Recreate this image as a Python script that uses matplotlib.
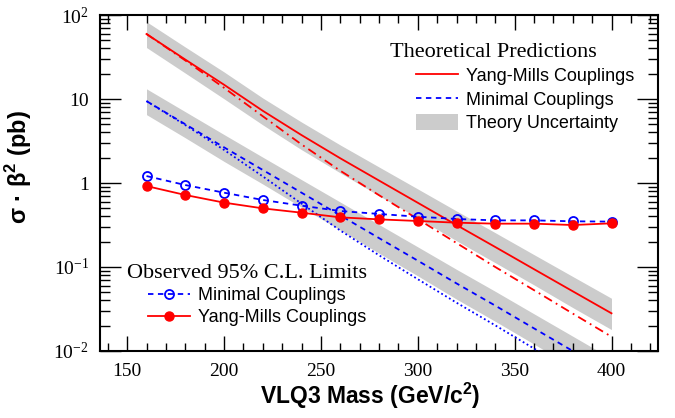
import numpy as np
import matplotlib
matplotlib.use('Agg')
import matplotlib.pyplot as plt
import matplotlib.ticker as ticker
from matplotlib.lines import Line2D
from matplotlib.patches import Patch

# VLQ3 mass points (GeV/c^2)
mass = [160, 180, 200, 220, 240, 260, 280, 300, 320, 340, 360, 380, 400]

# theory cross sections (pb)
ym_theory = [59.4, 29.5, 14.8, 7.24, 3.72, 1.97, 1.07, 0.582, 0.316, 0.173, 0.0942, 0.0514, 0.0281]
ym_theory_beta = [59.4, 28.8, 13.6, 6.24, 2.88, 1.40, 0.716, 0.372, 0.193, 0.100, 0.0530, 0.0279, 0.0148]
min_theory = [9.44, 5.01, 2.66, 1.43, 0.767, 0.412, 0.221, 0.119, 0.0638, 0.0347, 0.0186, 0.0100, 0.00537]
min_theory_beta = [9.44, 4.90, 2.48, 1.20, 0.569, 0.272, 0.138, 0.0716, 0.0376, 0.0202, 0.0107, 0.00562, 0.00295]

# relative theory uncertainty (up / down)
unc_up = [0.40, 0.41, 0.42, 0.42, 0.43, 0.44, 0.45, 0.46, 0.47, 0.48, 0.49, 0.50, 0.51]
unc_dn = [0.31, 0.31, 0.32, 0.32, 0.33, 0.33, 0.34, 0.34, 0.35, 0.35, 0.35, 0.36, 0.36]

# observed 95% C.L. limits (pb)
obs_min = [1.21, 0.946, 0.767, 0.628, 0.537, 0.464, 0.428, 0.397, 0.373, 0.359, 0.359, 0.350, 0.347]
obs_ym = [0.92, 0.72, 0.584, 0.499, 0.443, 0.390, 0.369, 0.353, 0.337, 0.328, 0.328, 0.316, 0.331]

SERIF = 'Liberation Serif'
SANS = 'Liberation Sans'
plt.rcParams['mathtext.fontset'] = 'custom'
plt.rcParams['mathtext.rm'] = SANS
plt.rcParams['mathtext.bf'] = SANS + ':bold'
plt.rcParams['axes.unicode_minus'] = False


def main():
    m = np.array(mass)
    up = 1 + np.array(unc_up)
    dn = 1 - np.array(unc_dn)
    ym = np.array(ym_theory)
    mn = np.array(min_theory)

    fig = plt.figure(figsize=(6.75, 4.18), dpi=100)
    ax = fig.add_axes([100 / 675, 1 - 351 / 418, 558 / 675, 336 / 418])

    gray = '#cccccc'
    ax.fill_between(m, ym * dn, ym * up, color=gray, lw=0, zorder=1)
    ax.fill_between(m, mn * dn, mn * up, color=gray, lw=0, zorder=1)

    ax.plot(m, ym_theory, color='red', lw=1.3, zorder=3)
    ax.plot(m, ym_theory_beta, color='red', lw=1.3, dashes=(5, 2.5, 1, 2.5), zorder=3)
    ax.plot(m, min_theory, color='blue', lw=1.3, dashes=(3, 2.5), zorder=3)
    ax.plot(m, min_theory_beta, color='blue', lw=1.3, dashes=(1, 1.5), zorder=3)

    ax.plot(m, obs_min, color='blue', lw=1.3, dashes=(3, 2.5), marker='o', ms=6.5,
            mfc='none', mec='blue', mew=1.3, zorder=4)
    ax.plot(m, obs_ym, color='red', lw=1.3, marker='o', ms=6.5, mfc='red', mec='red', zorder=4)

    ax.set_yscale('log')
    ax.set_xlim(136, 424)
    ax.set_ylim(1e-2, 1e2)

    ax.xaxis.set_major_locator(ticker.MultipleLocator(50))
    ax.xaxis.set_minor_locator(ticker.MultipleLocator(10))
    ax.yaxis.set_major_locator(ticker.FixedLocator([1e-2, 1e-1, 1, 10, 1e2]))
    ax.yaxis.set_major_formatter(ticker.FixedFormatter(
        [r'$\mathregular{10^{-2}}$', r'$\mathregular{10^{-1}}$', '1', '10', r'$\mathregular{10^{2}}$']))
    ax.yaxis.set_minor_locator(ticker.LogLocator(base=10, subs=np.arange(2, 10), numticks=20))
    ax.yaxis.set_minor_formatter(ticker.NullFormatter())

    for s in ax.spines.values():
        s.set_linewidth(1.5)
    ax.tick_params(which='both', direction='in', top=True, right=True, width=1.0)
    ax.tick_params(axis='x', which='major', length=11, pad=9)
    ax.tick_params(axis='x', which='minor', length=6)
    ax.tick_params(axis='y', which='major', length=15, pad=8)
    ax.tick_params(axis='y', which='minor', length=7)
    for lab in ax.get_xticklabels() + ax.get_yticklabels():
        lab.set_fontfamily(SERIF)
        lab.set_fontsize(14)

    ax.set_xlabel('VLQ3 Mass (GeV/c$^{\\mathbf{2}}$)', fontfamily=SANS, fontweight='bold', fontsize=16.5)
    ax.xaxis.set_label_coords(0.484, -0.088)
    ax.set_ylabel('σ · β$^{\\mathbf{2}}$ (pb)', fontfamily=SANS, fontweight='bold', fontsize=17)
    ax.yaxis.set_label_coords(-0.118, 0.548)

    # theory legend
    ax.text(0.5197, 0.888, 'Theoretical Predictions', transform=ax.transAxes,
            fontfamily=SERIF, fontsize=16, va='center', ha='left')
    h1 = [Line2D([], [], color='red', lw=1.3),
          Line2D([], [], color='blue', lw=1.3, dashes=(3, 2.5)),
          Patch(facecolor=gray, edgecolor='none')]
    leg1 = ax.legend(h1, ['Yang-Mills Couplings', 'Minimal Couplings', 'Theory Uncertainty'],
                     loc='upper left', bbox_to_anchor=(0.5663, 0.845), frameon=False,
                     prop={'family': SANS, 'size': 13}, borderpad=0, borderaxespad=0,
                     handlelength=2.3, handleheight=1.0, handletextpad=0.45, labelspacing=0.28)
    ax.add_artist(leg1)

    # observed legend
    ax.text(0.0478, 0.2321, 'Observed 95% C.L. Limits', transform=ax.transAxes,
            fontfamily=SERIF, fontsize=16, va='center', ha='left')
    h2 = [Line2D([], [], color='blue', lw=1.3, dashes=(3, 2.5), marker='o', ms=6.5,
                 mfc='none', mec='blue', mew=1.3),
          Line2D([], [], color='red', lw=1.3, marker='o', ms=6.5, mfc='red', mec='red')]
    ax.legend(h2, ['Minimal Couplings', 'Yang-Mills Couplings'], loc='upper left',
              bbox_to_anchor=(0.086, 0.19), frameon=False, numpoints=1,
              prop={'family': SANS, 'size': 13}, borderpad=0, borderaxespad=0,
              handlelength=2.3, handletextpad=0.45, labelspacing=0.28)

    fig.savefig('out.png', dpi=100)


if __name__ == '__main__':
    main()
